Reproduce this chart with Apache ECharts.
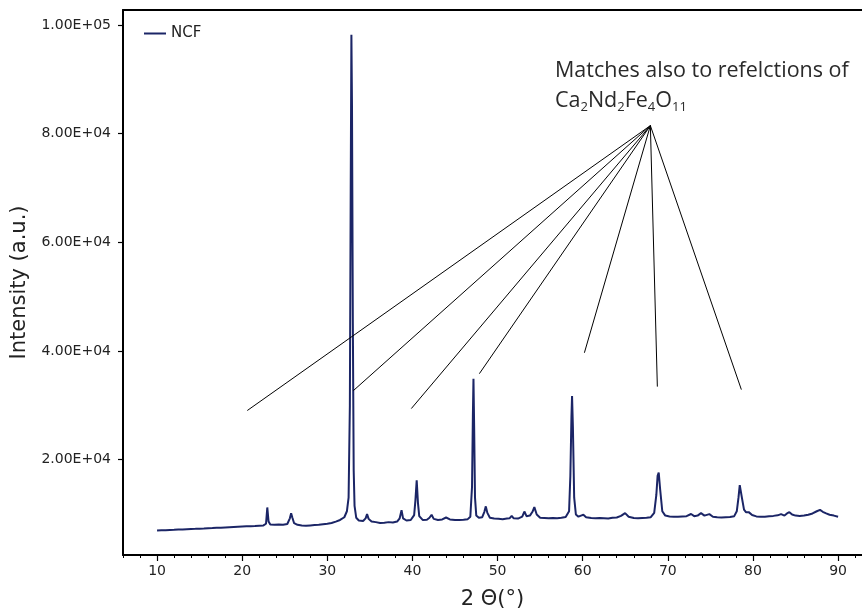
<!DOCTYPE html>
<html>
<head>
<meta charset="utf-8">
<script src="https://cdn.jsdelivr.net/npm/echarts@6/dist/echarts.min.js"></script>
<style>html,body{margin:0;padding:0;background:#fff}#c{width:862px;height:615px}</style>
</head>
<body>
<div id="c"></div>
<script>
const angles = [
 10.0,10.5,11.0,11.5,12.0,12.5,13.0,13.5,14.0,14.5,15.0,15.5,16.0,16.5,17.0,17.5,18.0,18.5,19.0,19.5,
 20.0,20.5,21.0,21.5,22.0,22.5,22.8,22.95,23.1,23.3,23.8,24.3,24.8,25.3,25.6,25.75,25.9,26.1,26.5,27.0,
 27.5,28.0,28.5,29.0,29.5,30.0,30.5,31.0,31.5,32.0,32.3,32.5,32.65,32.75,32.83,32.9,33.0,33.1,33.2,33.4,
 33.7,34.2,34.5,34.67,34.85,35.2,35.7,36.2,36.7,37.2,37.7,38.2,38.5,38.72,38.9,39.3,39.8,40.2,40.35,40.5,
 40.65,40.8,41.2,41.7,42.0,42.25,42.5,43.0,43.5,43.95,44.4,45.0,45.5,46.0,46.5,46.8,47.0,47.1,47.17,47.25,
 47.35,47.5,47.8,48.2,48.45,48.62,48.8,49.1,49.6,50.1,50.6,51.1,51.4,51.66,51.9,52.4,52.9,53.15,53.4,53.8,
 54.1,54.32,54.6,55.0,55.5,56.0,56.5,57.0,57.5,58.0,58.4,58.55,58.68,58.75,58.85,59.0,59.2,59.5,59.8,60.08,
 60.4,61.0,61.5,62.0,62.5,63.0,63.5,64.0,64.5,64.98,65.4,66.0,66.5,67.0,67.5,68.0,68.4,68.65,68.8,68.93,
 69.1,69.35,69.7,70.2,70.7,71.2,71.7,72.2,72.73,73.1,73.5,73.9,74.3,74.88,75.3,75.8,76.3,76.8,77.3,77.8,
 78.1,78.3,78.45,78.55,78.7,78.95,79.2,79.5,79.9,80.4,80.9,81.4,81.9,82.4,82.9,83.3,83.7,84.0,84.28,84.6,
 85.0,85.5,86.0,86.5,87.0,87.5,87.88,88.2,88.6,89.0,89.5,90.0
];
const counts = [
 6950,7000,7020,7060,7080,7130,7150,7200,7230,7260,7300,7330,7380,7400,7450,7480,7520,7560,7600,7640,
 7680,7720,7760,7800,7850,7900,8200,11200,8600,8050,8000,8050,8000,8150,9200,10150,9300,8300,8000,7900,
 7850,7900,7950,8000,8100,8200,8350,8600,8900,9400,10500,13000,30000,70000,98200,85000,45000,18000,11500,9300,
 8800,8700,9200,10000,9100,8600,8500,8350,8400,8500,8450,8600,9200,10700,9200,8800,8900,9800,12500,16200,
 12000,9600,8900,8950,9300,9850,9100,8900,9000,9350,9000,8900,8900,8950,9050,9500,15000,28000,34900,26000,
 13000,9700,9300,9400,10400,11400,10200,9300,9150,9100,9050,9150,9200,9650,9200,9150,9500,10450,9600,9700,
 10400,11250,9900,9300,9250,9200,9250,9200,9300,9450,10500,17000,28000,31700,26000,13000,9900,9500,9700,9850,
 9400,9250,9200,9250,9200,9150,9300,9350,9650,10150,9500,9250,9200,9250,9300,9400,10200,13500,17000,17600,
 14500,10500,9700,9550,9500,9500,9550,9600,10000,9600,9700,10150,9700,9970,9500,9400,9350,9400,9450,9600,
 10500,13000,15300,15500,13000,10800,10300,10340,9800,9550,9500,9500,9600,9650,9750,9970,9700,10100,10340,9900,
 9700,9650,9700,9850,10100,10500,10750,10400,10100,9850,9700,9480
];
const seriesName = 'NCF';
const xTicks = [10,20,30,40,50,60,70,80,90];
const yTicks = [20000,40000,60000,80000,100000];
// annotation leader lines: common apex and end points (data coordinates)
const apex = [67.95, 81470];
const leaderEnds = [[20.6,29040],[33.06,32700],[39.87,29400],[47.86,35820],[60.2,39670],[68.77,33440],[78.64,32890]];
const noteLine1 = 'Matches also to refelctions of';
const formulaParts = [['Ca','2'],['Nd','2'],['Fe','4'],['O','11']];

function sci(v){
  const p = Number(v).toExponential(2).split('e');
  const sign = p[1][0] === '-' ? '-' : '+';
  const d = p[1].replace(/[+-]/,'').padStart(2,'0');
  return p[0] + 'E' + sign + d;
}

const chart = echarts.init(document.getElementById('c'), null, {renderer:'canvas'});
const lineColor = '#1b2566';
const tickFont = {fontFamily:'DejaVu Sans', fontSize:14, color:'#222'};
const noteFont = 'Open Sans';
const X_MIN = 6, X_MAX = 92.81;

const option = {
  backgroundColor:'#fff',
  animation:false,
  grid:{left:123, top:10, right:0, bottom:58, show:false},
  legend:{
    data:[seriesName], left:139, top:21, itemWidth:22, itemHeight:2, itemGap:7,
    icon:'rect',
    textStyle:{fontFamily:'DejaVu Sans', fontSize:15, color:'#222'}
  },
  xAxis:[{
    type:'value', min:X_MIN, max:X_MAX, position:'bottom',
    name:'2 Θ(°)', nameLocation:'middle', nameGap:34,
    nameTextStyle:{fontFamily:'DejaVu Sans', fontSize:21, color:'#222'},
    axisLine:{show:true, lineStyle:{color:'#000', width:2}},
    axisTick:{show:true, length:6, customValues:xTicks, lineStyle:{color:'#000', width:1.2}},
    axisLabel:Object.assign({show:true, margin:9, customValues:xTicks}, tickFont),
    splitLine:{show:false}
  },{
    type:'value', min:X_MIN, max:X_MAX, interval:2, position:'bottom',
    axisLine:{show:false},
    axisTick:{show:true, length:3, lineStyle:{color:'#000', width:1}},
    axisLabel:{show:false},
    splitLine:{show:false}
  },{
    type:'value', min:X_MIN, max:X_MAX, position:'top',
    axisLine:{show:true, lineStyle:{color:'#000', width:2}},
    axisTick:{show:false}, axisLabel:{show:false}, splitLine:{show:false}
  }],
  yAxis:{
    type:'value', min:2450, max:102750,
    name:'Intensity (a.u.)', nameLocation:'middle', nameGap:91,
    nameTextStyle:{fontFamily:'DejaVu Sans', fontSize:21, color:'#222'},
    axisLine:{show:true, lineStyle:{color:'#000', width:2}},
    axisTick:{show:true, length:5, customValues:yTicks, lineStyle:{color:'#000', width:1.2}},
    axisLabel:Object.assign({show:true, margin:12, customValues:yTicks, formatter:sci}, tickFont),
    splitLine:{show:false}
  },
  series:[{
    name:seriesName, type:'line', xAxisIndex:0, yAxisIndex:0,
    data:angles.map((a,i)=>[a,counts[i]]),
    showSymbol:false, symbol:'none', smooth:false,
    lineStyle:{color:lineColor, width:2}, itemStyle:{color:lineColor},
    markLine:{
      silent:true, symbol:['none','none'], animation:false,
      label:{show:false},
      lineStyle:{color:'#000', width:1, type:'solid'},
      emphasis:{disabled:true},
      data:leaderEnds.map(e=>[{coord:apex},{coord:e}])
    }
  }],
  graphic:[{
    type:'text', left:555, top:60,
    style:{text:noteLine1, font:'400 21.5px "'+noteFont+'"', fill:'#2a2a2a'}
  },{
    type:'text', left:555, top:90,
    style:{
      text: formulaParts.map(p=>'{n|'+p[0]+'}{s|'+p[1]+'}').join(''),
      rich:{
        n:{fontFamily:noteFont, fontWeight:400, fontSize:21.5, lineHeight:26, fill:'#2a2a2a'},
        s:{fontFamily:noteFont, fontWeight:400, fontSize:13, lineHeight:15, verticalAlign:'bottom', fill:'#2a2a2a'}
      }
    }
  }]
};
chart.setOption(option);
</script>
</body>
</html>
